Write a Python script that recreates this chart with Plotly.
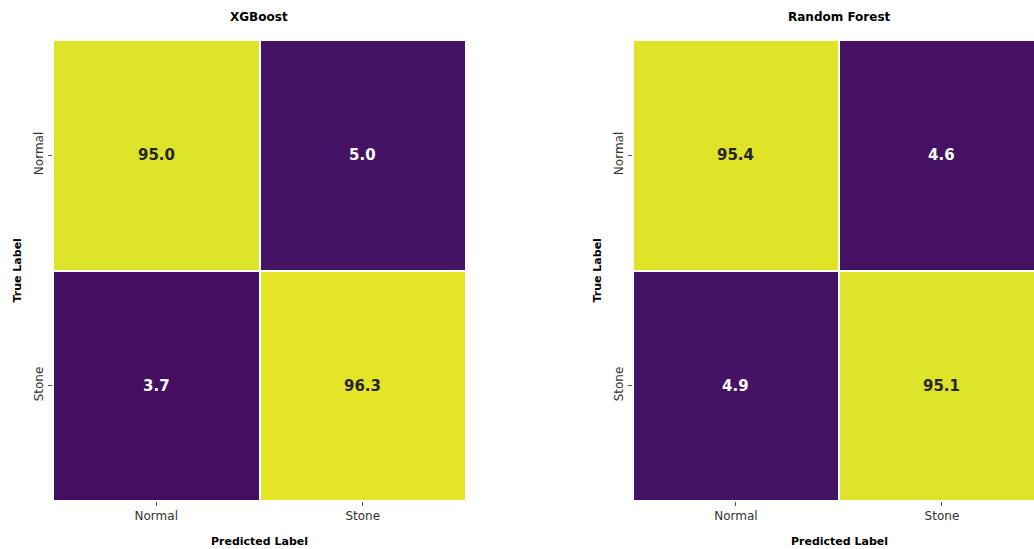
import plotly.graph_objects as go

# Confusion matrices (row-normalised, %)
classes = ["Normal", "Stone"]
models = ["XGBoost", "Random Forest"]
xgb_cm = [[95.0, 5.0],
          [3.7, 96.3]]
rf_cm = [[95.4, 4.6],
         [4.9, 95.1]]
matrices = [xgb_cm, rf_cm]

W, H = 1034, 549
FONT = "DejaVu Sans"

fig = go.Figure()

# Panel placement (paper fractions)
x_domains = [[53 / W, 466 / W], [633 / W, 1.0]]
y_domain = [(H - 501) / H, (H - 40) / H]
# the right panel runs off the page edge, so its last column is clipped
x_ranges = [[-0.5, 1.5], [-0.5, 1.447]]

annotations = []
for i, (name, cm) in enumerate(zip(models, matrices)):
    xa = "x" if i == 0 else f"x{i + 1}"
    ya = "y" if i == 0 else f"y{i + 1}"
    fig.add_trace(go.Heatmap(
        z=cm, x=[0, 1], y=[0, 1],
        colorscale="Viridis", zmin=0, zmax=100,
        xgap=2, ygap=2, showscale=False,
        xaxis=xa, yaxis=ya, hoverinfo="skip",
    ))
    axis_common = dict(
        showgrid=False, zeroline=False, showline=False,
        ticks="outside", ticklen=4, tickcolor="#555",
        tickfont=dict(family=FONT, size=12, color="#333"),
        tickvals=[0, 1], ticktext=classes,
    )
    fig.update_layout({
        ("xaxis" if i == 0 else f"xaxis{i + 1}"): dict(
            domain=x_domains[i], range=x_ranges[i], anchor=ya, **axis_common),
        ("yaxis" if i == 0 else f"yaxis{i + 1}"): dict(
            domain=y_domain, range=[1.5, -0.5], anchor=xa,
            tickangle=-90, **axis_common),
    })
    # cell values
    for r in range(2):
        for c in range(2):
            v = cm[r][c]
            annotations.append(dict(
                x=c, y=r, xref=xa, yref=ya, text=f"<b>{v:.1f}</b>",
                showarrow=False,
                font=dict(family=FONT, size=15,
                          color="#262626" if v > 50 else "white"),
            ))
    full_left = x_domains[i][0]
    cell_w = (466 - 53) / W
    cx = full_left + cell_w / 2
    # panel title
    annotations.append(dict(
        x=cx, y=1 - 17 / H, xref="paper", yref="paper", text=f"<b>{name}</b>",
        showarrow=False, xanchor="center", yanchor="middle",
        font=dict(family=FONT, size=12, color="black"),
    ))
    # axis titles
    annotations.append(dict(
        x=cx, y=1 - 541 / H, xref="paper", yref="paper",
        text="<b>Predicted Label</b>", showarrow=False,
        xanchor="center", yanchor="middle",
        font=dict(family=FONT, size=11, color="black"),
    ))
    annotations.append(dict(
        x=full_left - 36 / W, y=(y_domain[0] + y_domain[1]) / 2,
        xref="paper", yref="paper", text="<b>True Label</b>",
        showarrow=False, textangle=-90, xanchor="center", yanchor="middle",
        font=dict(family=FONT, size=11, color="black"),
    ))

fig.update_layout(
    width=W, height=H,
    margin=dict(l=0, r=0, t=0, b=0),
    paper_bgcolor="white", plot_bgcolor="white",
    annotations=annotations,
    showlegend=False,
)

fig.write_html("out.html")
